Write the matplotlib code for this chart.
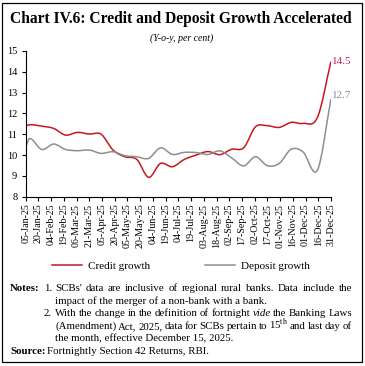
import numpy as np
import matplotlib
matplotlib.use('Agg')
import matplotlib.pyplot as plt
import matplotlib.dates as mdates
from matplotlib.path import Path
from matplotlib.patches import PathPatch, Rectangle
from matplotlib.lines import Line2D
import datetime as dt

plt.rcParams['font.family'] = ['Liberation Serif', 'DejaVu Serif']
plt.rcParams['mathtext.fontset'] = 'custom'
plt.rcParams['mathtext.rm'] = 'Liberation Serif'

dates = ['2025-01-05', '2025-01-10', '2025-01-24', '2025-02-07', '2025-02-21',
         '2025-03-07', '2025-03-21', '2025-04-04', '2025-04-18', '2025-05-02',
         '2025-05-16', '2025-05-30', '2025-06-13', '2025-06-27', '2025-07-11',
         '2025-07-25', '2025-08-08', '2025-08-22', '2025-09-05', '2025-09-19',
         '2025-10-03', '2025-10-17', '2025-10-31', '2025-11-14', '2025-11-28',
         '2025-12-15', '2025-12-31']
credit = [11.39, 11.46, 11.39, 11.28, 10.96, 11.09, 11.01, 11.00, 10.24, 9.92,
          9.79, 8.93, 9.60, 9.44, 9.79, 10.00, 10.17, 10.02, 10.28, 10.35,
          11.36, 11.41, 11.33, 11.57, 11.52, 11.81, 14.5]
deposit = [10.40, 10.80, 10.27, 10.53, 10.27, 10.21, 10.24, 10.08, 10.16, 9.97,
           9.92, 9.84, 10.35, 10.03, 10.13, 10.12, 10.03, 10.20, 9.86, 9.48,
           9.92, 9.49, 9.60, 10.28, 10.15, 9.28, 12.7]

RED = '#C8161E'
GREY = '#8E8E8E'

W, H = 365, 366
fig = plt.figure(figsize=(W / 100, H / 100), dpi=100)

def fx(px):
    return px / W

def fy(py):
    return 1 - py / H


def smooth_path(x, y):
    # cubic bezier through the points (like a "smoothed line")
    x = np.asarray(x, float)
    y = np.asarray(y, float)
    n = len(x)
    m = np.zeros(n)
    m[0] = (y[1] - y[0]) / (x[1] - x[0])
    m[-1] = (y[-1] - y[-2]) / (x[-1] - x[-2])
    for i in range(1, n - 1):
        m[i] = (y[i + 1] - y[i - 1]) / (x[i + 1] - x[i - 1])
    verts = [(x[0], y[0])]
    codes = [Path.MOVETO]
    for i in range(n - 1):
        h = x[i + 1] - x[i]
        verts += [(x[i] + h / 3, y[i] + m[i] * h / 3),
                  (x[i + 1] - h / 3, y[i + 1] - m[i + 1] * h / 3),
                  (x[i + 1], y[i + 1])]
        codes += [Path.CURVE4] * 3
    return Path(verts, codes)


xs = mdates.date2num([dt.datetime.strptime(d, '%Y-%m-%d') for d in dates])
x0 = mdates.date2num(dt.datetime(2025, 1, 5))
x1 = mdates.date2num(dt.datetime(2025, 12, 31))

ax = fig.add_axes([fx(25.7), fy(196.7), fx(331) - fx(25.7), fy(51) - fy(196.7)])
ax.add_patch(PathPatch(smooth_path(xs, credit), fill=False, edgecolor=RED, lw=1.1))
ax.add_patch(PathPatch(smooth_path(xs, deposit), fill=False, edgecolor=GREY, lw=1.1))
ax.set_xlim(x0, x1)
ax.set_ylim(8, 15)
ax.set_yticks(range(8, 16))
ax.set_xticks(np.arange(x0, x1 + 1, 15))
ax.xaxis.set_major_formatter(mdates.DateFormatter('%d-%b-%y'))
ax.tick_params(axis='x', labelrotation=90, labelsize=7.2, length=3, width=0.8, pad=2)
ax.tick_params(axis='y', labelsize=7.5, length=3, width=0.8, pad=3)
for s in ['top', 'right']:
    ax.spines[s].set_visible(False)
for s in ['left', 'bottom']:
    ax.spines[s].set_linewidth(0.8)

ax.text(xs[-1] + 1.5, credit[-1], '14.5', color='#C8254A', fontsize=8, va='center', ha='left', clip_on=False)
ax.text(xs[-1] + 1.5, deposit[-1] + 0.15, '12.7', color='#7F8FA6', fontsize=8, va='center', ha='left', clip_on=False)

handles = [Line2D([], [], color=RED, lw=1.1), Line2D([], [], color=GREY, lw=1.1)]
fig.legend(handles, ['Credit growth', 'Deposit growth'], loc='center',
           bbox_to_anchor=(fx(181), fy(266)), ncol=2, frameon=False,
           fontsize=8, handlelength=2.7, columnspacing=5.0, handletextpad=0.5)

fig.text(fx(181), fy(19), 'Chart IV.6: Credit and Deposit Growth Accelerated',
         ha='center', va='center', fontsize=11.2, fontweight='bold')
fig.text(fx(182), fy(38), '(Y-o-y, per cent)', ha='center', va='center',
         fontsize=7, style='italic')

# notes block
renderer = fig.canvas.get_renderer()
FS = 7.8


def justified(py, px, right, pieces, size=FS):
    # pieces: list of (text, fontstyle); words spread from px to right
    words = []
    for txt, st in pieces:
        for w in txt.split():
            words.append((w, st))
    arts = [fig.text(0, fy(py), w, fontsize=size, style=st, va='baseline', ha='left')
            for w, st in words]
    widths = [a.get_window_extent(renderer).width for a in arts]
    space = (right - px - sum(widths)) / (len(arts) - 1)
    x = px
    for a, w in zip(arts, widths):
        a.set_x(fx(x))
        x += w + space


def label(px, py, s, bold=False):
    fig.text(fx(px), fy(py), s, fontsize=FS, fontweight='bold' if bold else 'normal', va='baseline')


label(10, 291, 'Notes:', bold=True)
label(44, 291, '1.')
justified(291, 55, 352, [("SCBs' data are inclusive of regional rural banks. Data include the", 'normal')])
label(55, 303.5, 'impact of the merger of a non-bank with a bank.')
label(44, 316, '2.')
justified(316, 55, 352, [('With the change in the definition of fortnight', 'normal'),
                         ('vide', 'italic'),
                         ('the Banking Laws', 'normal')])
justified(329, 55, 352, [('(Amendment) Act,  2025, data for SCBs pertain to 15$^{\\mathrm{th}}$ and last day of', 'normal')])
label(55, 341.5, 'the month, effective December 15, 2025.')
label(10, 354, 'Source:', bold=True)
label(47, 354, 'Fortnightly Section 42 Returns, RBI.')

fig.add_artist(Rectangle((fx(2), fy(361.5)), fx(361.5) - fx(2), fy(3) - fy(361.5),
                         transform=fig.transFigure, fill=False, edgecolor='black', lw=0.9))

fig.savefig('out.png', dpi=100)
